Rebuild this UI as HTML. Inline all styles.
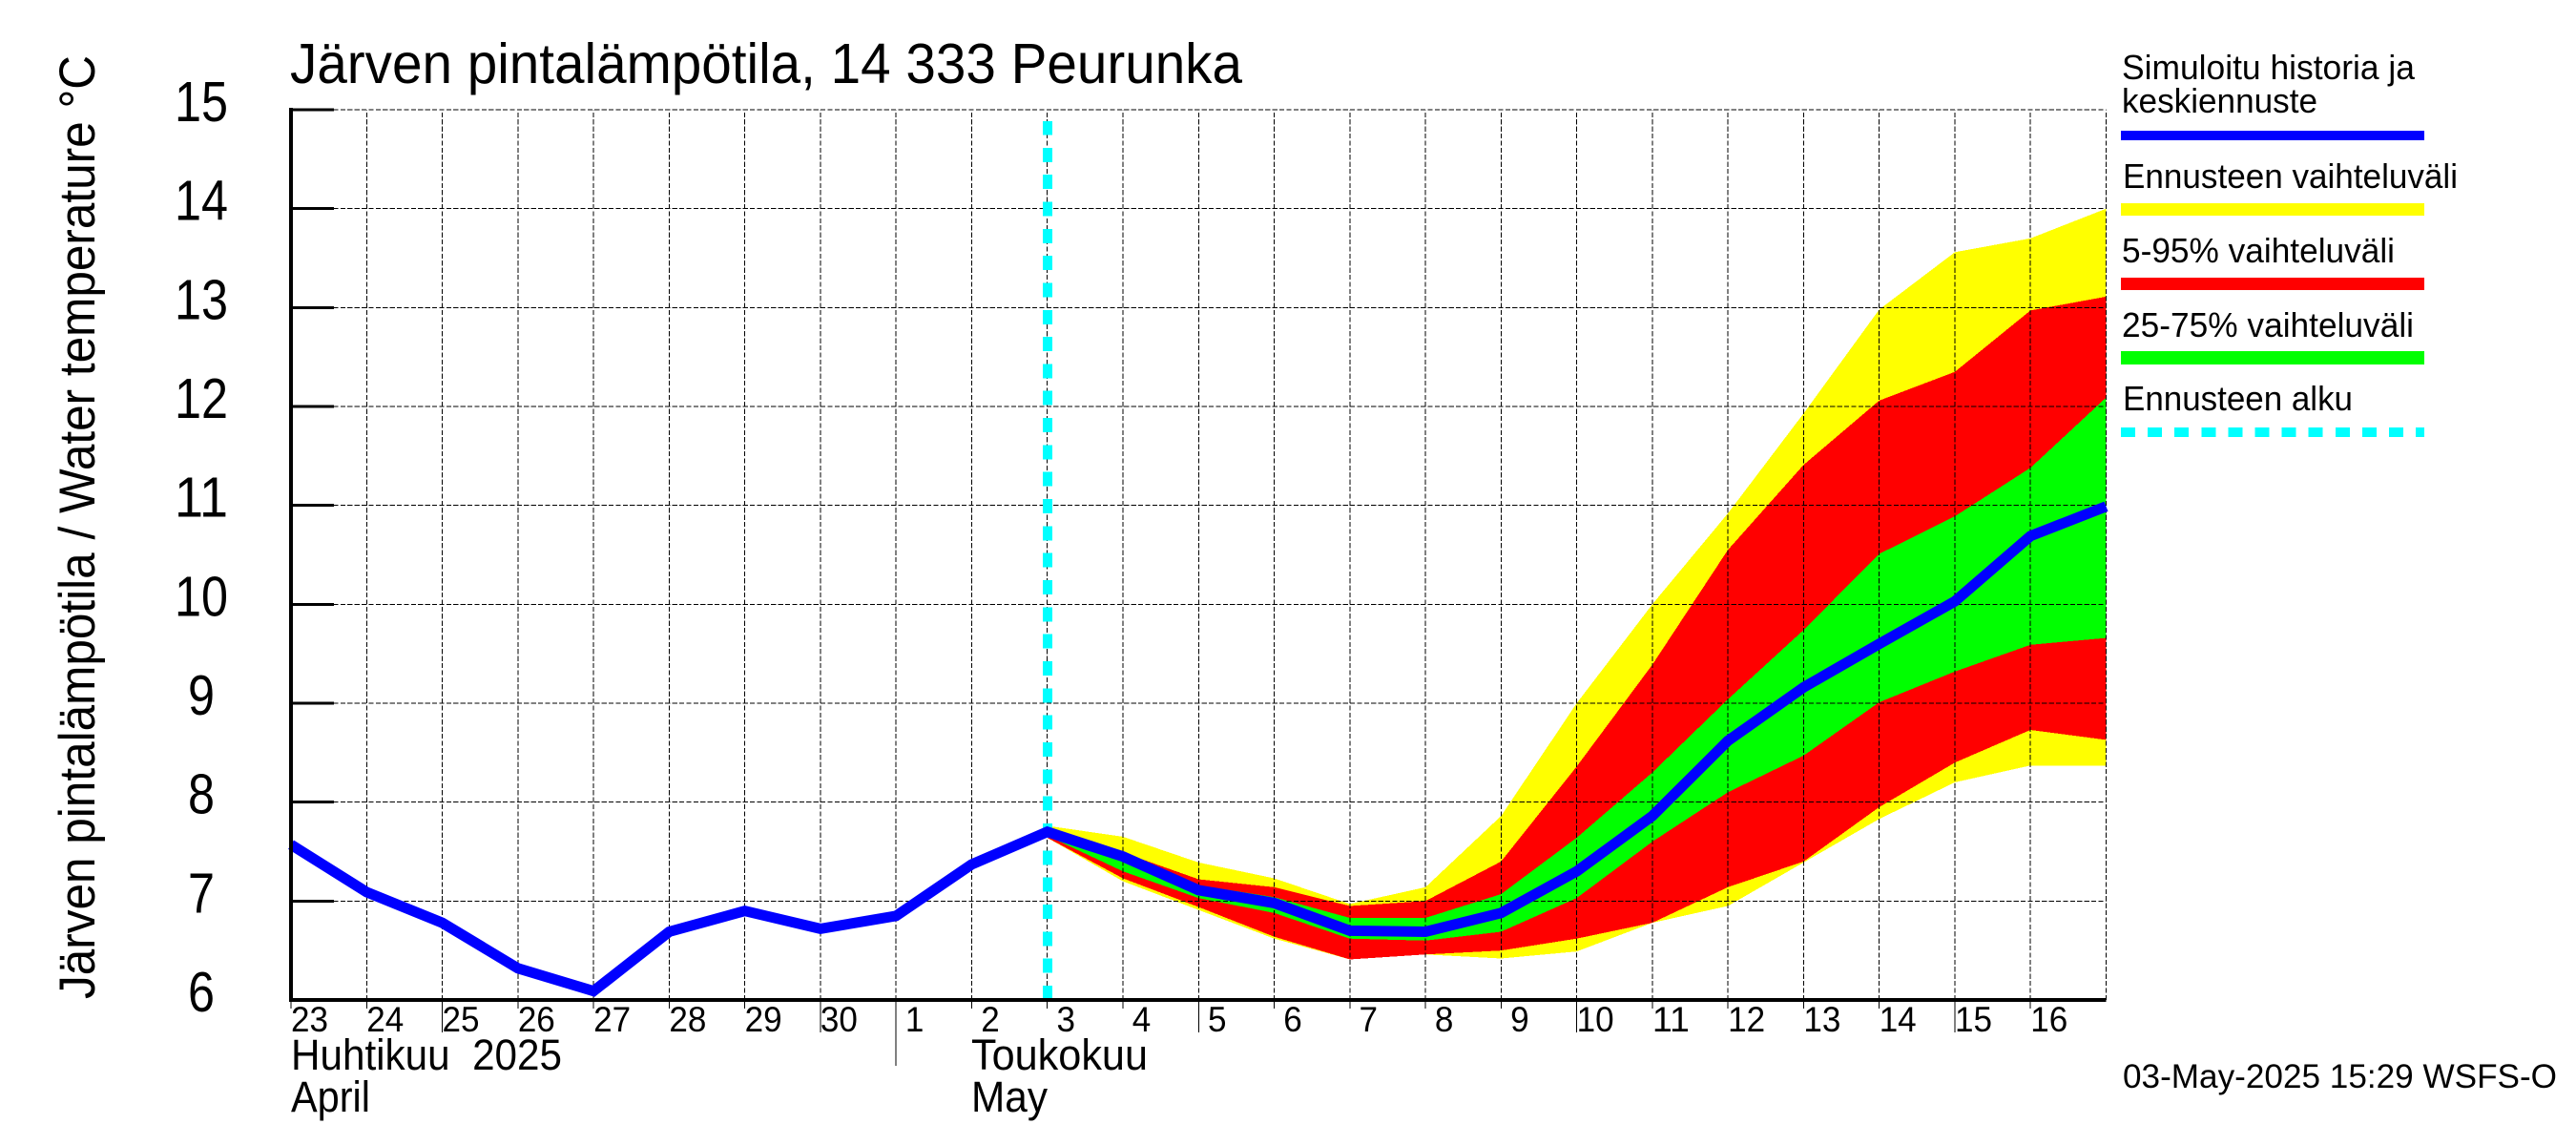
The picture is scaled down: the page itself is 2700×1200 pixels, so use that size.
<!DOCTYPE html>
<html lang="fi">
<head>
<meta charset="utf-8">
<title>Järven pintalämpötila, 14 333 Peurunka</title>
<style>
html,body{margin:0;padding:0;background:#fff;}
svg{display:block;}
text{font-family:"Liberation Sans",Arial,sans-serif;fill:#000;}
</style>
</head>
<body>
<svg id="chart" xmlns="http://www.w3.org/2000/svg" width="2700" height="1200" viewBox="0 0 2700 1200">
  <rect x="0" y="0" width="2700" height="1200" fill="#fff"/>
  <g id="bands" shape-rendering="crispEdges"></g>
  <g id="grid" shape-rendering="crispEdges"></g>
  <g id="series"></g>
  <g id="axes" shape-rendering="crispEdges"></g>
  <g id="labels"></g>

  <text x="304" y="87" font-size="59" textLength="998" lengthAdjust="spacingAndGlyphs">Järven pintalämpötila, 14 333 Peurunka</text>
  <text transform="translate(99 1047) rotate(-90)" x="0" y="0" font-size="53" textLength="989" lengthAdjust="spacingAndGlyphs">Järven pintalämpötila / Water temperature °C</text>

  <text x="305" y="1121" font-size="45" textLength="284" lengthAdjust="spacingAndGlyphs" xml:space="preserve">Huhtikuu  2025</text>
  <text x="305" y="1165" font-size="45" textLength="83" lengthAdjust="spacingAndGlyphs">April</text>
  <text x="1018" y="1121" font-size="45" textLength="185" lengthAdjust="spacingAndGlyphs">Toukokuu</text>
  <text x="1018" y="1165" font-size="45" textLength="80" lengthAdjust="spacingAndGlyphs">May</text>

  <g>
    <text x="2224" y="83" font-size="36" textLength="307" lengthAdjust="spacingAndGlyphs">Simuloitu historia ja</text>
    <text x="2224" y="118" font-size="36" textLength="205" lengthAdjust="spacingAndGlyphs">keskiennuste</text>
    <rect x="2223" y="137" width="318" height="10" fill="#0000ff"/>
    <text x="2225" y="197" font-size="36" textLength="351" lengthAdjust="spacingAndGlyphs">Ennusteen vaihteluväli</text>
    <rect x="2223" y="213" width="318" height="13" fill="#ffff00"/>
    <text x="2224" y="275" font-size="36" textLength="286" lengthAdjust="spacingAndGlyphs">5-95% vaihteluväli</text>
    <rect x="2223" y="291" width="318" height="13" fill="#ff0000"/>
    <text x="2224" y="353" font-size="36" textLength="306" lengthAdjust="spacingAndGlyphs">25-75% vaihteluväli</text>
    <rect x="2223" y="368" width="318" height="14" fill="#00ff00"/>
    <text x="2225" y="430" font-size="36" textLength="241" lengthAdjust="spacingAndGlyphs">Ennusteen alku</text>
    <line x1="2223" y1="453" x2="2541" y2="453" stroke="#00ffff" stroke-width="10" stroke-dasharray="15 13.1" shape-rendering="crispEdges"/>
  </g>

  <text x="2225" y="1140" font-size="35" textLength="455" lengthAdjust="spacingAndGlyphs">03-May-2025 15:29 WSFS-O</text>
</svg>

<script>
// Categories and tick labels
const dayLabels = ["23","24","25","26","27","28","29","30","1","2","3","4","5","6","7","8","9","10","11","12","13","14","15","16"];
const yTicks = [6,7,8,9,10,11,12,13,14,15];
const forecastStartDay = 10;

// Simulated history, 23 April to 3 May
const historyValues = [7.57,7.09,6.78,6.32,6.09,6.69,6.90,6.72,6.85,7.37,7.70];

// Forecast series, 3 May onward
const medianValues = [7.70,7.45,7.11,6.98,6.70,6.69,6.88,7.30,7.86,8.62,9.16,9.60,10.03,10.69,10.99];
const maxValues    = [7.76,7.65,7.39,7.23,6.97,7.14,7.86,9.00,10.00,10.92,11.93,12.98,13.56,13.70,14.00];
const p95Values    = [7.70,7.49,7.22,7.14,6.95,7.00,7.40,8.36,9.39,10.55,11.41,12.06,12.35,12.97,13.11];
const p75Values    = [7.70,7.43,7.16,7.04,6.83,6.83,7.07,7.64,8.30,9.04,9.74,10.51,10.89,11.38,12.09];
const p25Values    = [7.66,7.30,7.03,6.88,6.62,6.60,6.69,7.03,7.60,8.10,8.47,9.01,9.32,9.59,9.66];
const p5Values     = [7.64,7.23,6.94,6.64,6.41,6.46,6.50,6.62,6.78,7.14,7.40,7.95,8.40,8.73,8.63];
const minValues    = [7.64,7.20,6.91,6.62,6.41,6.46,6.42,6.49,6.78,6.95,7.39,7.83,8.20,8.37,8.37];

const NS = "http://www.w3.org/2000/svg";
const plotLeft = 305, plotRight = 2207.5, plotTop = 115, plotBottom = 1048;
const dayCount = dayLabels.length;
const yMin = yTicks[0], yMax = yTicks[yTicks.length - 1];

function xScale(day) { return plotLeft + day * (plotRight - plotLeft) / dayCount; }
function yScale(v) { return plotBottom - (v - yMin) * (plotBottom - plotTop) / (yMax - yMin); }

function make(tag, parent, attrs) {
  const el = document.createElementNS(NS, tag);
  for (const k in attrs) el.setAttribute(k, attrs[k]);
  parent.appendChild(el);
  return el;
}

const bandsGroup = document.getElementById("bands");
const gridGroup = document.getElementById("grid");
const seriesGroup = document.getElementById("series");
const axesGroup = document.getElementById("axes");
const labelsGroup = document.getElementById("labels");

function bandPath(upper, lower) {
  const pts = [];
  upper.forEach((v, i) => pts.push(xScale(forecastStartDay + i).toFixed(1) + "," + yScale(v).toFixed(1)));
  for (let i = lower.length - 1; i >= 0; i--) {
    pts.push(xScale(forecastStartDay + i).toFixed(1) + "," + yScale(lower[i]).toFixed(1));
  }
  return pts.join(" ");
}

// Forecast bands
const rangeBand = make("polygon", bandsGroup, { points: bandPath(maxValues, minValues), fill: "#ffff00" });


const p5Band = make("polygon", bandsGroup, { points: bandPath(p95Values, p5Values), fill: "#ff0000" });


const p25Band = make("polygon", bandsGroup, { points: bandPath(p75Values, p25Values), fill: "#00ff00" });



// Grid
yTicks.forEach(v => {
  const line = make("line", gridGroup, { x1: plotLeft, x2: plotRight, y1: yScale(v), y2: yScale(v), stroke: "#000", "stroke-width": 1, "stroke-dasharray": "5.2 2.2" });
  
  
});
for (let d = 1; d <= dayCount; d++) {
  const line = make("line", gridGroup, { x1: xScale(d), x2: xScale(d), y1: plotBottom, y2: plotTop, stroke: "#000", "stroke-width": 1, "stroke-dasharray": "5.2 2.2" });
  
  
}

// Forecast start marker
const startLine = make("line", seriesGroup, { x1: xScale(forecastStartDay) + 0.5, x2: xScale(forecastStartDay) + 0.5, y1: plotBottom, y2: 127, stroke: "#00ffff", "stroke-width": 10, "stroke-dasharray": "15 13.33", "shape-rendering": "crispEdges" });



// Blue line: history then median forecast
const linePoints = [];
historyValues.forEach((v, i) => linePoints.push(xScale(i).toFixed(1) + "," + yScale(v).toFixed(1)));
medianValues.slice(1).forEach((v, i) => linePoints.push(xScale(forecastStartDay + 1 + i).toFixed(1) + "," + yScale(v).toFixed(1)));
const mainLine = make("polyline", seriesGroup, { points: linePoints.join(" "), fill: "none", stroke: "#0000ff", "stroke-width": 11, "stroke-linejoin": "miter", "stroke-linecap": "butt" });



// Axes
const yAxisLine = make("line", axesGroup, { x1: plotLeft, x2: plotLeft, y1: plotTop - 2, y2: plotBottom + 2, stroke: "#000", "stroke-width": 4 });


const xAxisLine = make("line", axesGroup, { x1: plotLeft - 2, x2: plotRight, y1: plotBottom, y2: plotBottom, stroke: "#000", "stroke-width": 4 });



yTicks.forEach(v => {
  const tick = make("line", axesGroup, { x1: plotLeft, x2: plotLeft + 45, y1: yScale(v), y2: yScale(v), stroke: "#000", "stroke-width": 3 });
  
  
  const s = String(v);
  const label = make("text", labelsGroup, { x: 211, y: yScale(v) + 12, "font-size": 59, "text-anchor": "middle", textLength: s.length * 28, lengthAdjust: "spacingAndGlyphs" });
  label.textContent = s;
  
  
});

dayLabels.forEach((s, d) => {
  const n = Number(s);
  const isMonthStart = n === 1;
  const isLong = n % 5 === 0;
  const end = isMonthStart ? 1117 : (isLong ? 1082 : 1057);
  const tick = make("line", axesGroup, { x1: xScale(d), x2: xScale(d), y1: plotBottom, y2: end, stroke: "#000", "stroke-width": 1 });
  
  
  const label = make("text", labelsGroup, { x: xScale(d) + 19.5, y: 1081, "font-size": 37, "text-anchor": "middle", textLength: s.length * 19.5, lengthAdjust: "spacingAndGlyphs" });
  label.textContent = s;
  
  
});
</script>
</body>
</html>
